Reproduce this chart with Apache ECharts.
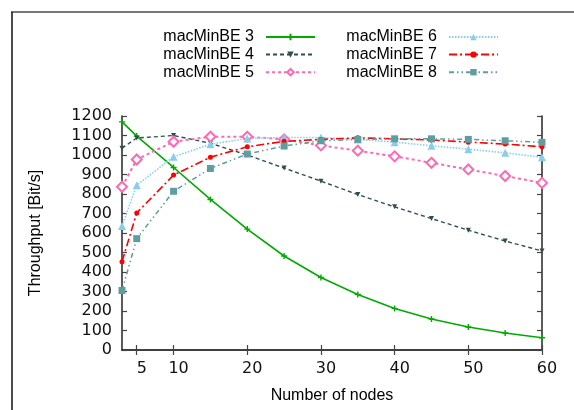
<!DOCTYPE html>
<html><head><meta charset="utf-8">
<script src="https://cdn.jsdelivr.net/npm/echarts@6/dist/echarts.min.js"></script>
<style>html,body{margin:0;padding:0;background:#fff}#c{width:574px;height:410px}</style>
</head><body><div id="c"></div>
<script>
var nodes = [3,5,10,15,20,25,30,35,40,45,50,55,60];
var names = ['macMinBE 3','macMinBE 4','macMinBE 5','macMinBE 6','macMinBE 7','macMinBE 8'];
var be3 = [1170,1097,936,772,620,482,372,285,213,159,118,87,63];
var be4 = [1035,1087,1100,1060,1000,933,866,797,734,674,614,559,508];
var be5 = [837,977,1068,1094,1094,1080,1049,1022,993,960,926,892,857];
var be6 = [636,845,991,1055,1085,1090,1090,1080,1066,1047,1030,1011,988];
var be7 = [453,703,897,989,1042,1070,1080,1088,1083,1077,1066,1056,1042];
var be8 = [305,571,814,931,1005,1046,1073,1080,1083,1083,1080,1073,1065];
var xTicks = [5,10,20,30,40,50,60];

function pairs(v){ return nodes.map(function(x,i){ return [x, v[i]]; }); }

var styles = [
  {c:'#00aa00', t:'solid', w:1.6, s:'path://M0,5 L10,5 M5,0 L5,10', ss:6, border:1.4},
  {c:'#2f4f4f', t:[4,3], w:1.4, s:'triangle', ss:5, rot:180},
  {c:'#ff69b4', t:[3,3], w:2, s:'emptyDiamond', ss:10, border:1.6},
  {c:'#87ceeb', t:[1.5,1.5], w:1.6, s:'triangle', ss:8},
  {c:'#ff0000', t:[8,3,2,3], w:1.6, s:'circle', ss:5},
  {c:'#5f9ea0', t:[5,3,1.5,3,1.5,3], w:1.5, s:'rect', ss:7}
];
var vals = [be3,be4,be5,be6,be7,be8];

var series = vals.map(function(v,i){
  var st = styles[i];
  var item = {color: st.c};
  if (st.border){ item.borderColor = st.c; item.borderWidth = st.border; }
  return {
    name: names[i], type:'line', data: pairs(v), clip:false,
    symbol: st.s, symbolSize: st.ss, symbolRotate: st.rot || 0, showAllSymbol:true,
    lineStyle:{color:st.c, type:st.t, width:st.w},
    itemStyle: item, animation:false
  };
});

var legendBase = {orient:'vertical', top:24, align:'right',
  itemWidth:49, itemHeight:8, itemGap:1.6,
  textStyle:{fontFamily:'Liberation Sans', fontSize:16, color:'#000', padding:[0,7,0,0]}};

var chart = echarts.init(document.getElementById('c'));
chart.setOption({
  backgroundColor:'#fff',
  animation:false,
  grid:{left:122, right:32, top:116, bottom:60},
  legend:[
    Object.assign({data:names.slice(0,3), right:253}, legendBase),
    Object.assign({data:names.slice(3,6), right:70}, legendBase)
  ],
  xAxis:[
    {type:'value', min:3, max:60, position:'bottom',
     name:'Number of nodes', nameLocation:'middle', nameGap:38,
     nameTextStyle:{fontFamily:'Liberation Sans', fontSize:16, color:'#000'},
     axisLine:{show:true, lineStyle:{color:'#333', width:1.6}},
     axisTick:{show:true, inside:true, length:5, customValues:xTicks, lineStyle:{color:'#444', width:1.2}},
     axisLabel:{customValues:xTicks, margin:11, padding:[0,0,0,10], fontFamily:'DejaVu Sans', fontSize:16, color:'#111',
       formatter:function(v){ return String(v); }},
     splitLine:{show:false}},
    {type:'value', min:3, max:60, position:'top',
     axisLine:{show:true, lineStyle:{color:'#333', width:1.6}},
     axisTick:{show:true, inside:true, length:5, customValues:xTicks, lineStyle:{color:'#444', width:1.2}},
     axisLabel:{show:false}, splitLine:{show:false}}
  ],
  yAxis:[
    {type:'value', min:0, max:1200, interval:100, position:'left',
     name:'Throughput [Bit/s]', nameLocation:'middle', nameGap:78,
     nameTextStyle:{fontFamily:'Liberation Sans', fontSize:16, color:'#000'},
     axisLine:{show:true, lineStyle:{color:'#333', width:1.6}},
     axisTick:{show:true, inside:true, length:5, lineStyle:{color:'#444', width:1.2}},
     axisLabel:{margin:10, fontFamily:'DejaVu Sans', fontSize:16, color:'#111',
       formatter:function(v){ return String(v); }},
     splitLine:{show:false}},
    {type:'value', min:0, max:1200, interval:100, position:'right',
     axisLine:{show:true, lineStyle:{color:'#333', width:1.6}},
     axisTick:{show:true, inside:true, length:5, lineStyle:{color:'#444', width:1.2}},
     axisLabel:{show:false}, splitLine:{show:false}}
  ],
  graphic:[
    {type:'line', shape:{x1:11, y1:12, x2:574, y2:12}, style:{stroke:'#777', lineWidth:2}, silent:true},
    {type:'line', shape:{x1:12, y1:12, x2:12, y2:410}, style:{stroke:'#111', lineWidth:1.5}, silent:true}
  ],
  series: series
});
</script></body></html>
